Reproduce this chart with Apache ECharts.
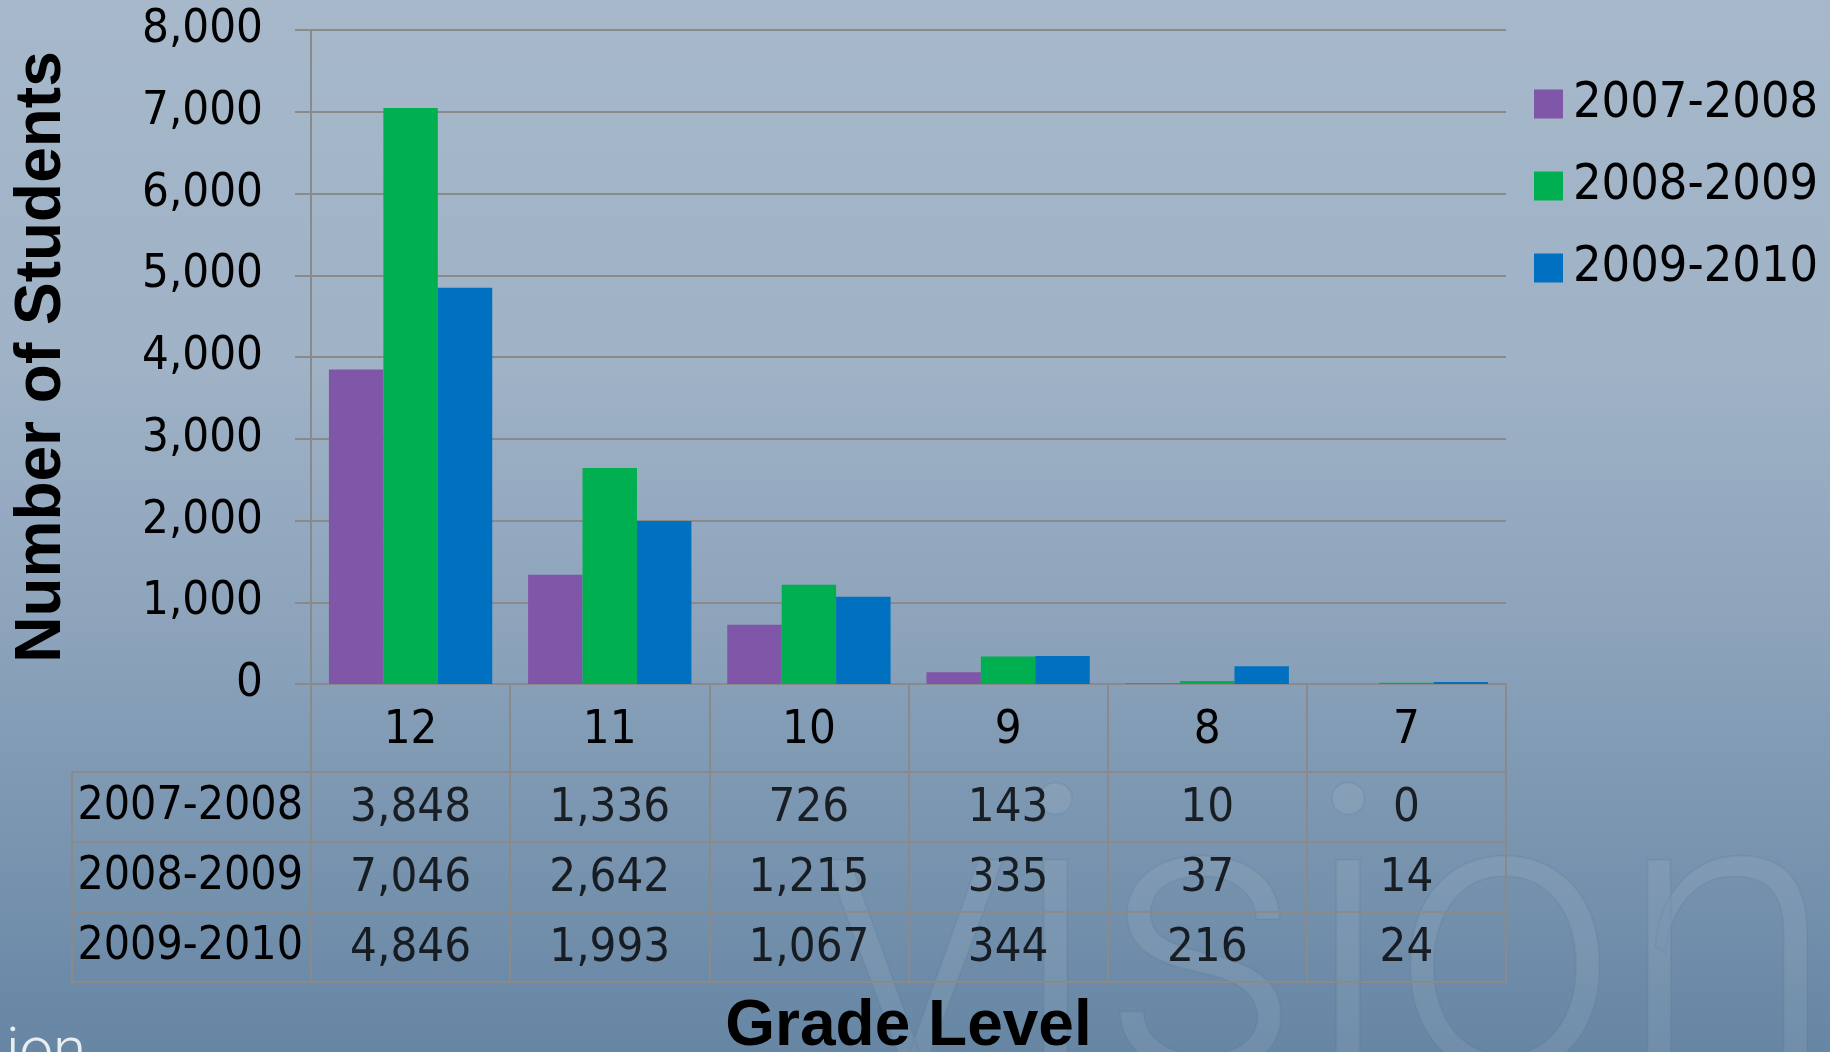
<!DOCTYPE html>
<html>
<head>
<meta charset="utf-8">
<title>Number of Students by Grade Level</title>
<script src="https://cdn.jsdelivr.net/npm/echarts@6/dist/echarts.min.js"></script>
<style>
html, body { margin: 0; padding: 0; }
#chart { width: 1830px; height: 1052px; }
</style>
</head>
<body>
<div id="chart"></div>
<script>
var grades = ['12', '11', '10', '9', '8', '7']
var years = ['2007-2008', '2008-2009', '2009-2010']
var students0708 = [3848, 1336, 726, 143, 10, 0]
var students0809 = [7046, 2642, 1215, 335, 37, 14]
var students0910 = [4846, 1993, 1067, 344, 216, 24]
var yMin = 0
var yMax = 8000
var yStep = 1000

var colors = ['#7f56a8', '#00b050', '#0070c0']
var lineGray = '#8a8a8a'
var numFont = '"DejaVu Sans Condensed", "Liberation Sans Narrow", "DejaVu Sans", sans-serif'
var boldFont = '"Liberation Sans", Arial, sans-serif'

function fmt(v) {
  return String(v).replace(/\B(?=(\d{3})+(?!\d))/g, ',')
}

var chart = echarts.init(document.getElementById('chart'))

// table cells: one per year row and grade column
var rows = [students0708, students0809, students0910]
var cells = []
rows.forEach(function(row, r) {
  row.forEach(function(v, c) {
    cells.push([c, r, v])
  })
})

var barSeries = rows.map(function(row, i) {
  return {
    name: years[i],
    type: 'bar',
    xAxisIndex: 0,
    yAxisIndex: 0,
    barGap: '0%',
    barCategoryGap: '18%',
    itemStyle: { color: colors[i] },
    data: row
  }
})

chart.setOption({
  backgroundColor: {
    type: 'linear', x: 0, y: 0, x2: 0, y2: 1,
    colorStops: [
      { offset: 0, color: '#a6b8ca' },
      { offset: 0.35, color: '#9fb2c6' },
      { offset: 0.6, color: '#8ca3bb' },
      { offset: 1, color: '#6686a4' }
    ]
  },
  textStyle: { fontFamily: numFont, color: '#000' },
  graphic: [
    {
      type: 'text', left: 817, top: 770, silent: true, z: -1,
      style: { text: 'vision', fill: 'rgba(255,255,255,0.07)', stroke: 'rgba(80,110,140,0.15)', lineWidth: 2, font: '300 400px Roboto, "Open Sans", sans-serif' }
    },
    {
      type: 'text', left: 6, top: 1024, silent: true, z: -1,
      style: { text: 'ion', fill: 'rgba(255,255,255,0.85)', font: '300 60px Roboto, "Open Sans", sans-serif' }
    }
  ],
  legend: {
    orient: 'vertical',
    left: 1529,
    top: 74,
    itemWidth: 29,
    itemHeight: 29,
    itemGap: 32,
    icon: 'rect',
    data: years,
    textStyle: { fontFamily: numFont, fontSize: 50, color: '#000', padding: [0, 0, 0, 5] }
  },
  grid: [
    { left: 311, top: 30, width: 1195, height: 654, outerBoundsMode: 'none' },
    { left: 311, top: 772, width: 1195, height: 210, outerBoundsMode: 'none' }
  ],
  xAxis: [
    {
      type: 'category',
      gridIndex: 0,
      data: grades,
      axisLine: { lineStyle: { color: lineGray, width: 2 } },
      axisTick: { show: true, length: 88, alignWithLabel: false, lineStyle: { color: lineGray, width: 2 } },
      axisLabel: { fontFamily: numFont, fontSize: 47, color: '#000', margin: 47, verticalAlign: 'middle' },
      splitLine: { show: false }
    },
    {
      type: 'category',
      gridIndex: 1,
      data: grades,
      name: 'Grade Level',
      nameLocation: 'middle',
      nameGap: 13,
      nameTextStyle: { fontFamily: boldFont, fontWeight: 'bold', fontSize: 64, color: '#000', verticalAlign: 'top' },
      axisLine: { lineStyle: { color: lineGray, width: 2 } },
      axisTick: { show: false },
      axisLabel: { show: false },
      splitLine: { show: true, lineStyle: { color: lineGray, width: 2 } }
    }
  ],
  yAxis: [
    {
      type: 'value',
      gridIndex: 0,
      min: yMin,
      max: yMax,
      interval: yStep,
      name: 'Number of Students',
      nameLocation: 'middle',
      nameGap: 237,
      nameTextStyle: { fontFamily: boldFont, fontWeight: 'bold', fontSize: 64, color: '#000' },
      axisLine: { show: true, lineStyle: { color: lineGray, width: 2 } },
      axisTick: { show: true, length: 16, lineStyle: { color: lineGray, width: 2 } },
      axisLabel: { fontFamily: numFont, fontSize: 47, color: '#000', margin: 48, formatter: fmt },
      splitLine: { lineStyle: { color: lineGray, width: 2 } }
    },
    {
      type: 'category',
      gridIndex: 1,
      inverse: true,
      data: years,
      axisLine: { show: true, lineStyle: { color: lineGray, width: 2 } },
      axisTick: { show: true, length: 239, alignWithLabel: false, lineStyle: { color: lineGray, width: 2 } },
      axisLabel: { fontFamily: numFont, fontSize: 46, color: '#000', margin: 8 },
      splitLine: { show: true, lineStyle: { color: lineGray, width: 2 } }
    },
    {
      type: 'category',
      gridIndex: 1,
      position: 'left',
      offset: 239,
      inverse: true,
      data: years,
      axisLine: { show: true, lineStyle: { color: lineGray, width: 2 } },
      axisTick: { show: false },
      axisLabel: { show: false },
      splitLine: { show: false }
    }
  ],
  series: barSeries.concat([
    {
      name: 'table',
      type: 'scatter',
      xAxisIndex: 1,
      yAxisIndex: 1,
      symbol: 'rect',
      symbolSize: 1,
      itemStyle: { color: 'rgba(0,0,0,0)' },
      label: {
        show: true,
        position: 'inside',
        fontFamily: numFont,
        fontSize: 47,
        color: '#000',
        offset: [0, 2],
        formatter: function(p) { return fmt(p.value[2]) }
      },
      emphasis: { disabled: true },
      data: cells
    }
  ])
})
</script>
</body>
</html>
